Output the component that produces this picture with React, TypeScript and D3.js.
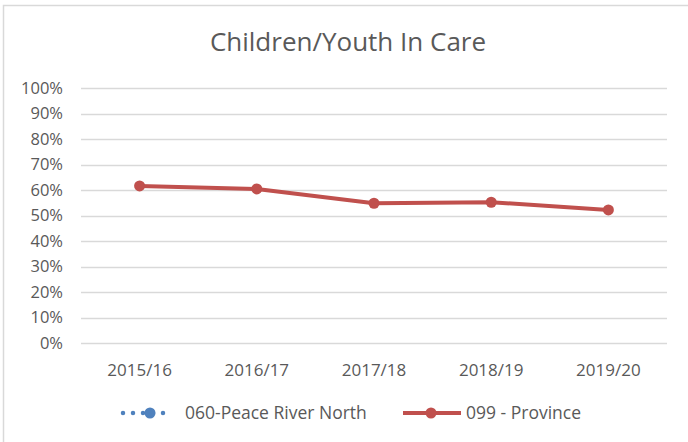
import * as d3 from "d3";
import React, { useEffect, useRef } from 'react';

const years = ["2015/16", "2016/17", "2017/18", "2018/19", "2019/20"];
const province = [61.6, 60.4, 54.8, 55.2, 52.2];
const yTicks = [0, 10, 20, 30, 40, 50, 60, 70, 80, 90, 100];
const seriesNames = ["060-Peace River North", "099 - Province"];

export default function App() {
  const chartRef = useRef<SVGSVGElement | null>(null);

  useEffect(() => {
    if (!chartRef.current) return;
    const width = 688;
    const height = 442;
    const margin = { top: 88, right: 21, bottom: 99, left: 81 };
    const font = "'Open Sans', 'Noto Sans', sans-serif";
    const textColor = "#595959";
    const red = "#c0504d";
    const blue = "#4f81bd";

    const svg = d3.select(chartRef.current);
    svg.selectAll("*").remove();

    // chart border (runs off the right/bottom edge)
    svg.append('rect')
      .attr('x', 3.5).attr('y', 5.5)
      .attr('width', 720).attr('height', 470)
      .attr('fill', '#fff')
      .attr('stroke', '#d9d9d9')
      .attr('stroke-width', 1.5);

    const x = d3.scaleBand()
      .domain(years)
      .range([margin.left, width - margin.right]);

    const y = d3.scaleLinear()
      .domain([0, 100])
      .range([height - margin.bottom, margin.top]);

    // title
    svg.append('text')
      .attr('x', 348)
      .attr('y', 51)
      .attr('text-anchor', 'middle')
      .style('font-family', font)
      .style('font-size', '26px')
      .attr('fill', textColor)
      .text("Children/Youth In Care");

    //gridlines
    svg.append('g')
      .selectAll('line')
      .data(yTicks)
      .join('line')
      .attr('x1', margin.left)
      .attr('x2', width - margin.right)
      .attr('y1', d => Math.round(y(d)) + 0.5)
      .attr('y2', d => Math.round(y(d)) + 0.5)
      .attr('stroke', '#d9d9d9')
      .attr('stroke-width', 1.3);

    // y labels
    svg.append('g')
      .selectAll('text')
      .data(yTicks)
      .join('text')
      .attr('x', 63)
      .attr('y', d => y(d))
      .attr('dy', '0.35em')
      .attr('text-anchor', 'end')
      .style('font-family', font)
      .style('font-size', '16.5px')
      .attr('fill', textColor)
      .text(d => d + "%");

    // x labels
    svg.append('g')
      .selectAll('text')
      .data(years)
      .join('text')
      .attr('x', d => x(d)! + x.bandwidth() / 2)
      .attr('y', height - margin.bottom + 27)
      .attr('dy', '0.35em')
      .attr('text-anchor', 'middle')
      .style('font-family', font)
      .style('font-size', '17px')
      .attr('fill', textColor)
      .text(d => d);

    // province line
    const line = d3.line<number>()
      .x((_, i) => x(years[i])! + x.bandwidth() / 2)
      .y(d => y(d));

    svg.append('path')
      .datum(province)
      .attr('d', line)
      .attr('fill', 'none')
      .attr('stroke', red)
      .attr('stroke-width', 4)
      .attr('stroke-linejoin', 'round');

    svg.append('g')
      .selectAll('circle')
      .data(province)
      .join('circle')
      .attr('cx', (_, i) => x(years[i])! + x.bandwidth() / 2)
      .attr('cy', d => y(d))
      .attr('r', 5.5)
      .attr('fill', red);

    //Legend
    const ly = 413;
    const legend = svg.append('g');

    legend.append('line')
      .attr('x1', 123).attr('x2', 173)
      .attr('y1', ly).attr('y2', ly)
      .attr('stroke', blue)
      .attr('stroke-width', 4.5)
      .attr('stroke-linecap', 'round')
      .attr('stroke-dasharray', '0 10');
    legend.append('circle')
      .attr('cx', 150).attr('cy', ly).attr('r', 5.5)
      .attr('fill', blue);
    legend.append('text')
      .attr('x', 185).attr('y', ly)
      .attr('dy', '0.35em')
      .style('font-family', font)
      .style('font-size', '17.5px')
      .attr('fill', textColor)
      .text(seriesNames[0]);

    legend.append('line')
      .attr('x1', 403).attr('x2', 461)
      .attr('y1', ly).attr('y2', ly)
      .attr('stroke', red)
      .attr('stroke-width', 4);
    legend.append('circle')
      .attr('cx', 431).attr('cy', ly).attr('r', 5.5)
      .attr('fill', red);
    legend.append('text')
      .attr('x', 466).attr('y', ly)
      .attr('dy', '0.35em')
      .style('font-family', font)
      .style('font-size', '17.5px')
      .attr('fill', textColor)
      .text(seriesNames[1]);
  }, []);

  return (
    <svg ref={chartRef} width={688} height={442}
      style={{ position: 'absolute', left: 0, top: 0, display: 'block' }}></svg>
  );
}
